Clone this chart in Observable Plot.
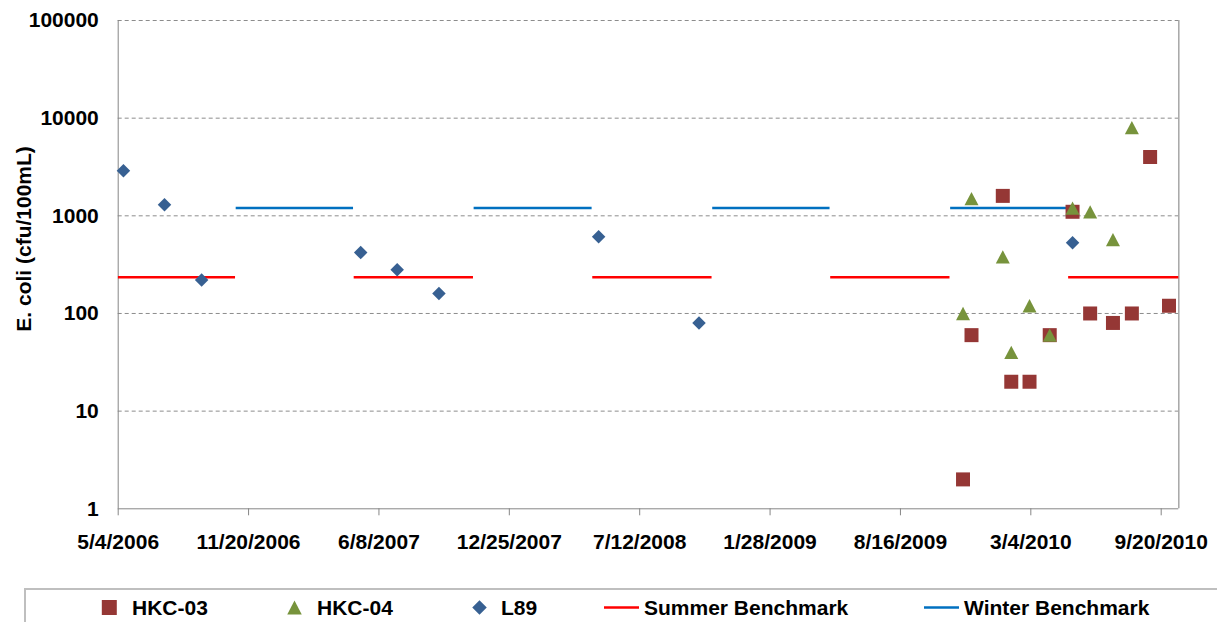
<!DOCTYPE html>
<html><head><meta charset="utf-8">
<script src="https://cdn.jsdelivr.net/npm/d3@7"></script>
<script src="https://cdn.jsdelivr.net/npm/@observablehq/plot@0.6"></script>
<style>
html,body{margin:0;padding:0;background:#fff;}
#chart{position:relative;width:1217px;height:622px;overflow:hidden;font-family:"Liberation Sans",Arial,sans-serif;}
#chart svg{display:block;}
#legend{position:absolute;left:0;top:588px;}
</style></head><body><div id="chart"></div>
<script>
// ---- data ----
const xDomain = ["2006-05-04", "2010-10-17"];
const xTicks = ["2006-05-04","2006-11-20","2007-06-08","2007-12-25","2008-07-12","2009-01-28","2009-08-16","2010-03-04","2010-09-20"];
const yTicks = [1, 10, 100, 1000, 10000, 100000];

const hkc03Dates = ["2009-11-20","2009-12-03","2010-01-20","2010-02-02","2010-03-02","2010-04-02","2010-05-07","2010-06-03","2010-07-08","2010-08-06","2010-09-03","2010-10-02"];
const hkc03Values = [2, 60, 1600, 20, 20, 60, 1100, 100, 80, 100, 4000, 120];

const hkc04Dates = ["2009-11-20","2009-12-03","2010-01-20","2010-02-02","2010-03-02","2010-04-02","2010-05-07","2010-06-03","2010-07-08","2010-08-06"];
const hkc04Values = [100, 1500, 380, 40, 120, 60, 1200, 1100, 570, 8000];

const l89Dates = ["2006-05-12","2006-07-14","2006-09-09","2007-05-11","2007-07-06","2007-09-08","2008-05-10","2008-10-11","2010-05-07"];
const l89Values = [2900, 1300, 220, 420, 280, 160, 610, 80, 530];

const summerStarts = ["2006-05-04","2007-05-01","2008-05-01","2009-05-01","2010-05-01"];
const summerEnds   = ["2006-10-31","2007-10-31","2008-10-31","2009-10-31","2010-10-31"];
const summerValue = 235;
const winterStarts = ["2006-11-01","2007-11-01","2008-11-01","2009-11-01"];
const winterEnds   = ["2007-04-30","2008-04-30","2009-04-30","2010-04-30"];
const winterValue = 1200;

const seriesNames = ["HKC-03", "HKC-04", "L89", "Summer Benchmark", "Winter Benchmark"];
const yTitle = "E. coli (cfu/100mL)";

// ---- build ----
const parse = d3.utcParse("%Y-%m-%d");
const pts = (dates, values) => dates.map((d, i) => ({date: parse(d), value: values[i]}));
const segs = (starts, ends, v) => starts.map((s, i) => ({start: parse(s), end: parse(ends[i]), value: v}));

const hkc03 = pts(hkc03Dates, hkc03Values);
const hkc04 = pts(hkc04Dates, hkc04Values);
const l89 = pts(l89Dates, l89Values);
const summer = segs(summerStarts, summerEnds, summerValue);
const winter = segs(winterStarts, winterEnds, winterValue);

const colors = {hkc03: "#953735", hkc04: "#77933C", l89: "#376092", summer: "#FF0000", winter: "#0070C0"};
const sideR = s => s / Math.sqrt(Math.PI);
const squareSym = {draw(ctx, size){const h = Math.sqrt(size)/2; ctx.moveTo(-h,-h); ctx.lineTo(h,-h); ctx.lineTo(h,h); ctx.lineTo(-h,h); ctx.closePath();}};
const triangleSym = {draw(ctx, size){const w = Math.sqrt(size)/2, h = w*0.95; ctx.moveTo(0,-h); ctx.lineTo(w,h); ctx.lineTo(-w,h); ctx.closePath();}};
const diamondSym = {draw(ctx, size){const h = Math.sqrt(size)/2; ctx.moveTo(0,-h); ctx.lineTo(h,0); ctx.lineTo(0,h); ctx.lineTo(-h,0); ctx.closePath();}};

const font = {fontSize: 21, fontWeight: "bold", fill: "black"};
const dom = xDomain.map(parse);

const chart = Plot.plot({
  width: 1217, height: 588,
  marginLeft: 117.7, marginRight: 38.7, marginTop: 20, marginBottom: 79.7,
  style: {fontFamily: "'Liberation Sans', Arial, sans-serif", background: "white"},
  x: {type: "utc", domain: dom},
  y: {type: "log", domain: [yTicks[0], yTicks[yTicks.length-1]]},
  marks: [
    Plot.gridY(yTicks.slice(1), {stroke: "#8c8c8c", strokeOpacity: 1, strokeDasharray: "4,3"}),
    Plot.ruleX([dom[0]], {stroke: "#868686"}),
    Plot.ruleX([dom[1]], {stroke: "#a6a6a6", strokeWidth: 1.5}),
    Plot.ruleY([yTicks[0]], {stroke: "#868686"}),
    Plot.axisX({ticks: xTicks.map(parse), tickFormat: "%-m/%-d/%Y", tickSize: 7, tickPadding: 18, stroke: "#868686", label: null, ...font}),
    Plot.axisY({ticks: yTicks, tickFormat: d => String(d), tickSize: 0, tickPadding: 19.4, label: null, ...font}),
    Plot.ruleY(summer, {y: "value", x1: "start", x2: "end", stroke: colors.summer, strokeWidth: 2.5, clip: true}),
    Plot.ruleY(winter, {y: "value", x1: "start", x2: "end", stroke: colors.winter, strokeWidth: 2.5, clip: true}),
    Plot.dot(hkc03, {x: "date", y: "value", symbol: squareSym, r: sideR(14), fill: colors.hkc03, stroke: null}),
    Plot.dot(hkc04, {x: "date", y: "value", symbol: triangleSym, r: sideR(14), fill: colors.hkc04, stroke: null}),
    Plot.dot(l89, {x: "date", y: "value", symbol: diamondSym, r: sideR(13.5), fill: colors.l89, stroke: null}),
    Plot.text([yTitle], {text: d => d, frameAnchor: "left", rotate: -90, dx: -93.7, dy: -25.7, lineAnchor: "middle", textAnchor: "middle", ...font})
  ]
});
const host = document.getElementById("chart");
host.appendChild(chart);

// ---- legend (HTML/SVG below the plot) ----
const leg = d3.select(host).append("svg").attr("id", "legend").attr("width", 1217).attr("height", 34);
leg.append("path").attr("d", "M25,34V1H1217").attr("fill", "none").attr("stroke", "#bfbfbf").attr("stroke-width", 2);
const cy = 19.5;
const items = [
  {name: seriesNames[0], kind: "square", color: colors.hkc03, mx: 109.3, tx: 132},
  {name: seriesNames[1], kind: "triangle", color: colors.hkc04, mx: 294.5, tx: 317},
  {name: seriesNames[2], kind: "diamond", color: colors.l89, mx: 479.5, tx: 501},
  {name: seriesNames[3], kind: "line", color: colors.summer, mx: 621.5, tx: 644},
  {name: seriesNames[4], kind: "line", color: colors.winter, mx: 941.5, tx: 964}
];
const symMap = {square: squareSym, triangle: triangleSym, diamond: diamondSym};
for (const it of items) {
  if (it.kind === "line") {
    leg.append("line").attr("x1", it.mx - 17.5).attr("x2", it.mx + 17.5).attr("y1", cy).attr("y2", cy)
      .attr("stroke", it.color).attr("stroke-width", 2.5);
  } else {
    const s = it.kind === "square" ? 15 : 14.5;
    leg.append("path").attr("d", d3.symbol(symMap[it.kind], s * s)()).attr("transform", `translate(${it.mx},${cy})`).attr("fill", it.color);
  }
  leg.append("text").attr("x", it.tx).attr("y", cy).attr("dy", "0.36em")
    .attr("font-family", "'Liberation Sans', Arial, sans-serif").attr("font-size", 21).attr("font-weight", "bold")
    .attr("fill", "black").text(it.name);
}
</script>
</body></html>
